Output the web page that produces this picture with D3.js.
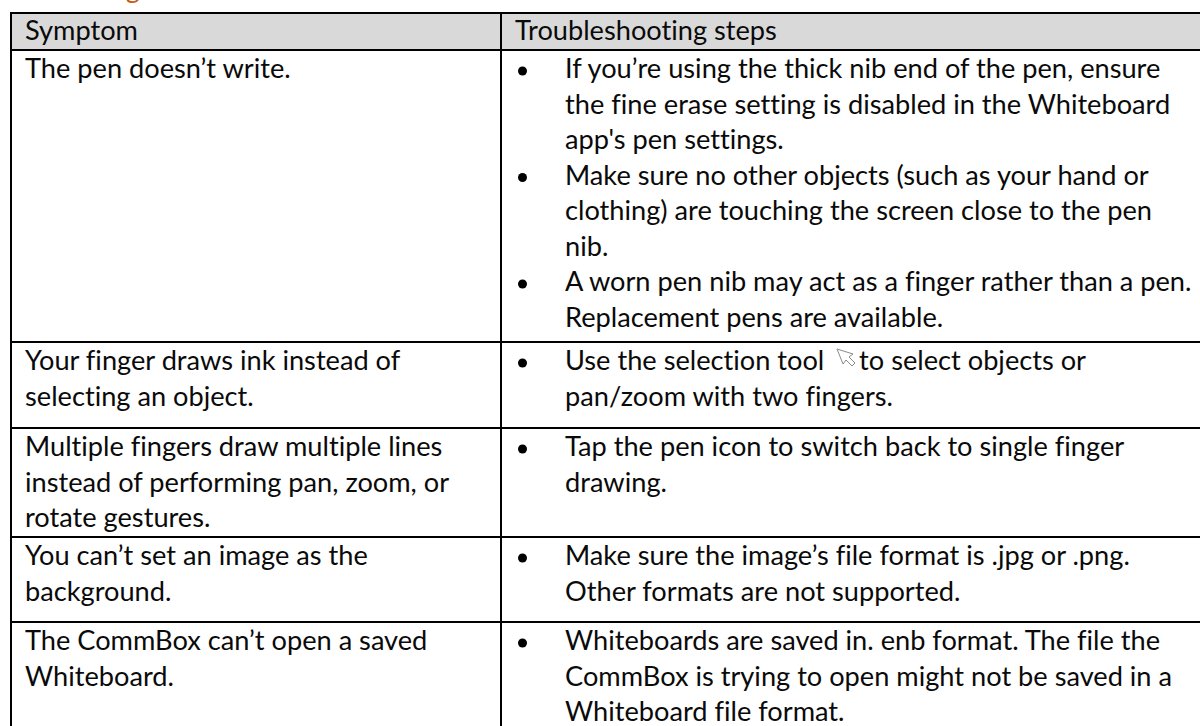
<!DOCTYPE html>
<html>
<head>
<meta charset="utf-8">
<script src="https://cdn.jsdelivr.net/npm/d3@7"></script>
<style>
  html, body { margin: 0; padding: 0; background: #fff; overflow: hidden; }
  svg { display: block; }
  text { font-family: Lato, "Open Sans", sans-serif; font-size: 27.2px; fill: #0a0a0a; white-space: pre; font-variant-ligatures: none; }
</style>
</head>
<body>
<div id="main"></div>
<script>
const width = 1200, height = 726;

const heading = "Drawing";
const headers = ["Symptom", "Troubleshooting steps"];
const symptoms = [
    ["The pen doesn’t write."],
    ["Your finger draws ink instead of", "selecting an object."],
    ["Multiple fingers draw multiple lines", "instead of performing pan, zoom, or", "rotate gestures."],
    ["You can’t set an image as the", "background."],
    ["The CommBox can’t open a saved", "Whiteboard."]
];
// one entry per bullet, each with its wrapped lines
const steps = [
    [
        ["If you’re using the thick nib end of the pen, ensure", "the fine erase setting is disabled in the Whiteboard", "app's pen settings."],
        ["Make sure no other objects (such as your hand or", "clothing) are touching the screen close to the pen", "nib."],
        ["A worn pen nib may act as a finger rather than a pen.", "Replacement pens are available."]
    ],
    [["Use the selection tool     to select objects or", "pan/zoom with two fingers."]],
    [["Tap the pen icon to switch back to single finger", "drawing."]],
    [["Make sure the image’s file format is .jpg or .png.", "Other formats are not supported."]],
    [["Whiteboards are saved in. enb format. The file the", "CommBox is trying to open might not be saved in a", "Whiteboard file format."]]
];
const rowLines = [13, 50, 342, 428, 537, 622];

let svg = d3.select("#main").append("svg")
    .attr("width", width)
    .attr("height", height);

const lineH = 35.5;
const colX = [11, 501, 1200];

svg.append("text")
    .attr("x", 140)
    .attr("y", -2)
    .attr("text-anchor", "end")
    .style("fill", "#c55a11")
    .text(heading);

svg.append("rect")
    .attr("x", colX[0])
    .attr("y", rowLines[0])
    .attr("width", colX[2] - colX[0])
    .attr("height", rowLines[1] - rowLines[0])
    .attr("fill", "#d9d9d9");

svg.selectAll("text.head")
    .data(headers)
    .join("text")
    .attr("class", "head")
    .attr("x", (d, i) => colX[i] + 14)
    .attr("y", 40)
    .text(d => d);

svg.selectAll("line.row")
    .data(rowLines)
    .join("line")
    .attr("class", "row")
    .attr("x1", colX[0] - 1)
    .attr("x2", colX[2])
    .attr("y1", d => d)
    .attr("y2", d => d)
    .attr("stroke", "#000")
    .attr("stroke-width", 2);

svg.selectAll("line.col")
    .data(colX.slice(0, 2))
    .join("line")
    .attr("class", "col")
    .attr("x1", d => d)
    .attr("x2", d => d)
    .attr("y1", rowLines[0])
    .attr("y2", height)
    .attr("stroke", "#000")
    .attr("stroke-width", 2);

symptoms.forEach((lines, r) => {
    lines.forEach((t, i) => {
        svg.append("text")
            .attr("x", colX[0] + 14)
            .attr("y", rowLines[r + 1] + 28 + i * lineH)
            .text(t);
    });
});

steps.forEach((bullets, r) => {
    let n = 0;
    bullets.forEach(lines => {
        svg.append("circle")
            .attr("cx", 522.5)
            .attr("cy", rowLines[r + 1] + 21 + n * lineH)
            .attr("r", 4.5)
            .attr("fill", "#000");
        lines.forEach(t => {
            svg.append("text")
                .attr("x", 565)
                .attr("y", rowLines[r + 1] + 28 + n * lineH)
                .text(t);
            n++;
        });
    });
});

// selection tool cursor in the second row
svg.append("path")
    .attr("transform", "translate(837,349)")
    .attr("d", "M0,0L6,15L9,11L15,17L18,14L12,8L16,5Z")
    .attr("fill", "#fff")
    .attr("stroke", "#8a8a8a")
    .attr("stroke-width", 1);
</script>
</body>
</html>
